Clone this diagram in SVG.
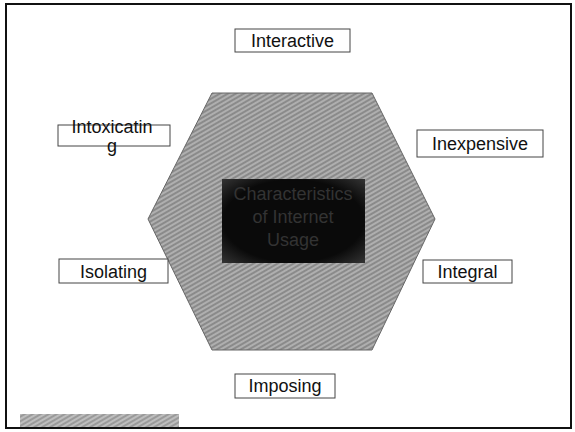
<svg xmlns="http://www.w3.org/2000/svg" width="575" height="432" viewBox="0 0 575 432">
<style>
.lbl rect{fill:#fff;stroke:#444;stroke-width:1}
.lbl text{font-family:"Liberation Sans",Arial,sans-serif;font-size:18px;fill:#111;text-anchor:middle}
.ctr{font-family:"Liberation Sans",Arial,sans-serif;font-size:18px;fill:#333;text-anchor:middle}
</style>
<defs>
<pattern id="hatch" width="4" height="4" patternUnits="userSpaceOnUse" patternTransform="rotate(-30)">
<rect width="4" height="4" fill="#8a8a8a"/>
<line x1="0" y1="1" x2="4" y2="1" stroke="#d4d4d4" stroke-width="1"/>
</pattern>
<pattern id="hatch2" width="4" height="4" patternUnits="userSpaceOnUse" patternTransform="rotate(-30)">
<rect width="4" height="4" fill="#9a9a9a"/>
<line x1="0" y1="1" x2="4" y2="1" stroke="#e0e0e0" stroke-width="1"/>
</pattern>
<radialGradient id="dark" cx="0.5" cy="0.5" r="0.7">
<stop offset="0.7" stop-color="#0a0a0a"/>
<stop offset="1" stop-color="#333"/>
</radialGradient>
</defs>
<rect x="0" y="0" width="575" height="432" fill="#fff"/>
<rect x="6" y="4" width="565" height="424" fill="none" stroke="#111" stroke-width="2"/>
<g id="hexagon">
<polygon points="212,93 372,93 435,219 372,350 212,350 148,219" fill="url(#hatch)" stroke="#666" stroke-width="1"/>
</g>
<g id="center">
<rect x="222" y="179" width="143" height="84" fill="url(#dark)"/>
<text class="ctr" x="293" y="200">Characteristics</text>
<text class="ctr" x="293" y="223">of Internet</text>
<text class="ctr" x="293" y="246">Usage</text>
</g>
<g id="connectors"></g>
<g id="interactive" class="lbl">
<rect x="235" y="29" width="115" height="23"/>
<text x="292.5" y="47">Interactive</text>
</g>
<g id="inexpensive" class="lbl">
<rect x="417" y="130" width="126" height="27"/>
<text x="480" y="150">Inexpensive</text>
</g>
<g id="integral" class="lbl">
<rect x="423" y="260" width="89" height="23"/>
<text x="467.5" y="278">Integral</text>
</g>
<g id="imposing" class="lbl">
<rect x="235" y="374" width="100" height="24"/>
<text x="285" y="392">Imposing</text>
</g>
<g id="isolating" class="lbl">
<rect x="59" y="259" width="109" height="24"/>
<text x="113.5" y="278">Isolating</text>
</g>
<g id="intoxicating" class="lbl">
<rect x="58" y="125" width="112" height="21"/>
<text x="112" y="133">Intoxicatin</text>
<text x="112" y="152">g</text>
</g>
<g id="footer">
<rect x="20" y="414" width="159" height="13" fill="url(#hatch2)"/>
</g>
</svg>
